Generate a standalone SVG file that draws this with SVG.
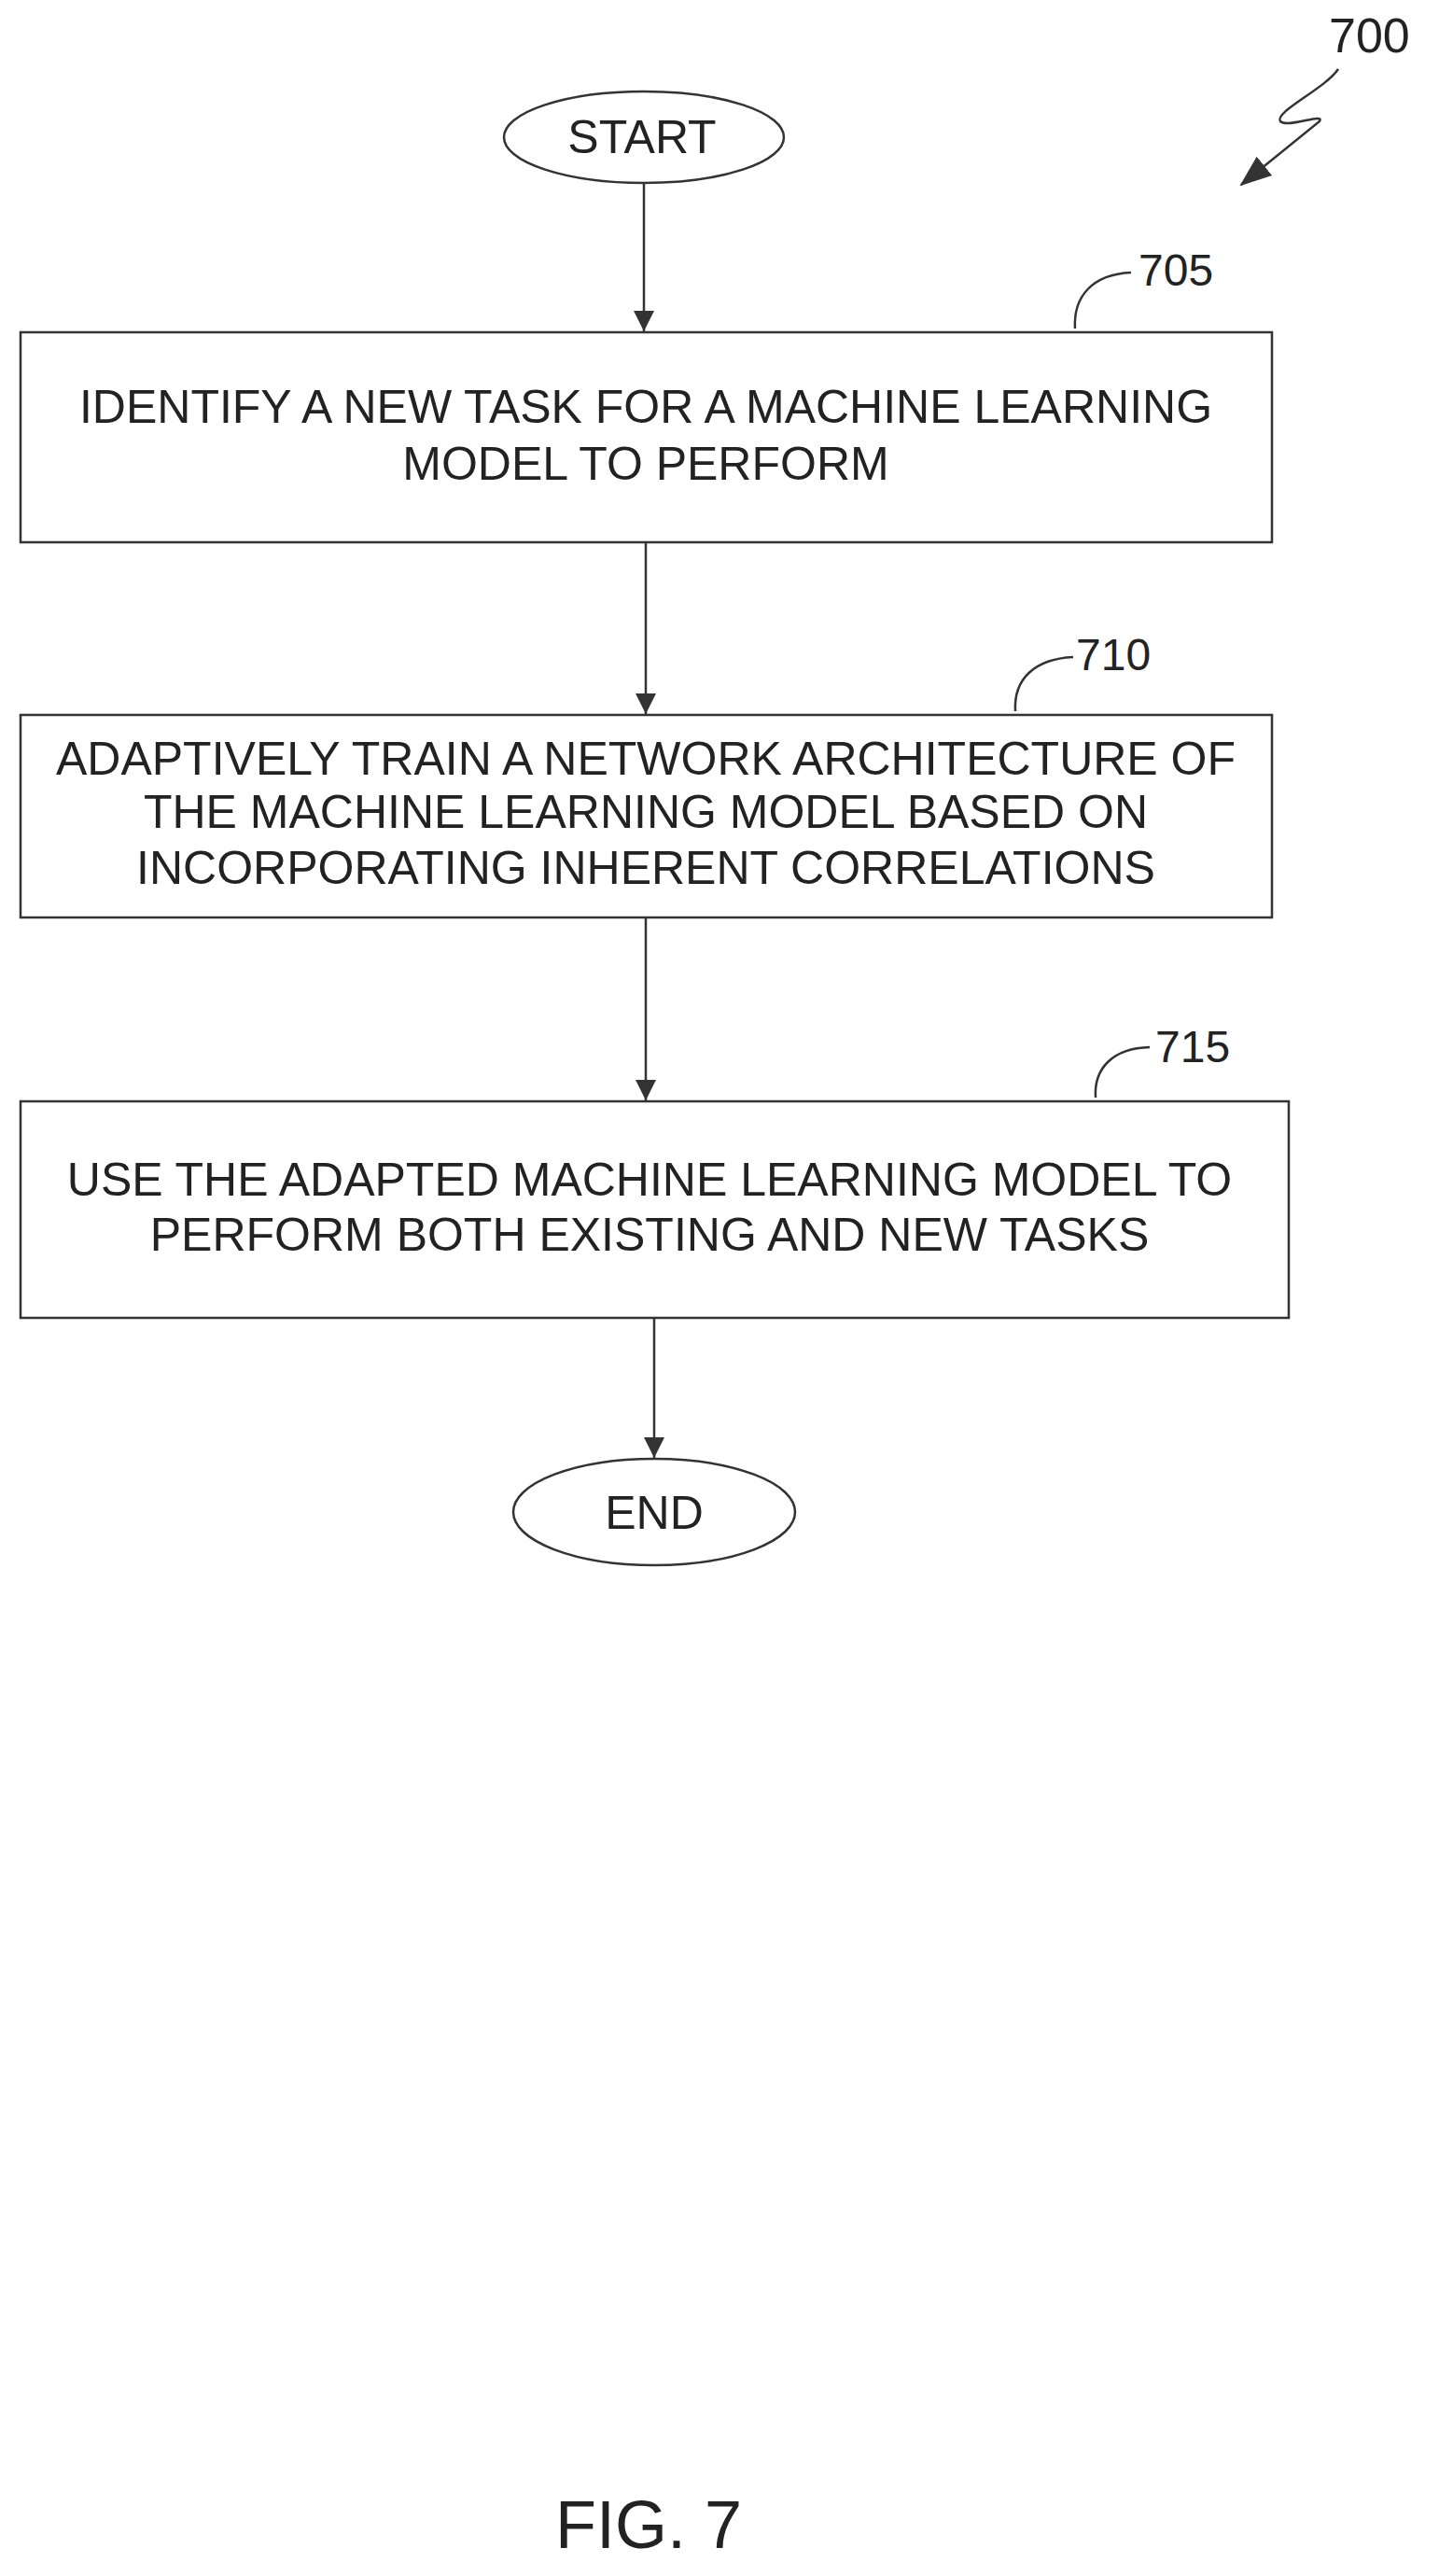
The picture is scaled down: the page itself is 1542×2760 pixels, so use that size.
<svg xmlns="http://www.w3.org/2000/svg" width="1542" height="2760" viewBox="0 0 1542 2760">
<style>
.s{fill:none;stroke:#333;stroke-width:2.5}
.t{font-family:"Liberation Sans",Arial,sans-serif;font-size:50px;fill:#222;text-anchor:middle}
.r{font-family:"Liberation Sans",Arial,sans-serif;font-size:48px;fill:#222}
</style>
<defs><marker id="a" markerWidth="22" markerHeight="24" refX="22" refY="11" orient="auto" markerUnits="userSpaceOnUse" viewBox="0 0 22 22"><path d="M0,0 L22,11 L0,22 Z" fill="#333"/></marker>
<marker id="b" markerWidth="34" markerHeight="34" refX="32" refY="15" orient="auto" markerUnits="userSpaceOnUse" viewBox="0 0 34 30"><path d="M0,2 L34,15 L0,28 Z" fill="#333"/></marker></defs>
<rect width="1542" height="2760" fill="#fff"/>
<g id="start"><ellipse class="s" cx="690" cy="147" rx="150" ry="49"/><text class="t" x="688" y="164">START</text></g>
<g id="n705"><rect class="s" x="22" y="356" width="1341" height="225"/><text class="t" x="692" y="453">IDENTIFY A NEW TASK FOR A MACHINE LEARNING</text><text class="t" x="692" y="514">MODEL TO PERFORM</text>
<path class="s" d="M1152,352 C1150,318 1170,294 1212,292"/><text class="r" x="1220" y="306">705</text></g>
<g id="n710"><rect class="s" x="22" y="766" width="1341" height="217"/><text class="t" x="692" y="830">ADAPTIVELY TRAIN A NETWORK ARCHITECTURE OF</text><text class="t" x="692" y="887">THE MACHINE LEARNING MODEL BASED ON</text><text class="t" x="692" y="947">INCORPORATING INHERENT CORRELATIONS</text>
<path class="s" d="M1088,762 C1086,728 1108,706 1150,704"/><text class="r" x="1153" y="718">710</text></g>
<g id="n715"><rect class="s" x="22" y="1180" width="1359" height="232"/><text class="t" x="696" y="1281">USE THE ADAPTED MACHINE LEARNING MODEL TO</text><text class="t" x="696" y="1340">PERFORM BOTH EXISTING AND NEW TASKS</text>
<path class="s" d="M1174,1176 C1172,1145 1192,1123 1232,1122"/><text class="r" x="1238" y="1138">715</text></g>
<g id="end"><ellipse class="s" cx="701" cy="1620" rx="151" ry="57"/><text class="t" x="701" y="1638">END</text></g>
<g id="ref700"><text class="r" x="1424" y="56" style="font-size:52px">700</text><path class="s" d="M1434,74 C1420,95 1365,120 1372,130 C1380,138 1420,120 1414,130 L1330,198" marker-end="url(#b)"/></g>
<g id="connectors">
<line class="s" x1="690" y1="196" x2="690" y2="355" marker-end="url(#a)"/>
<line class="s" x1="692" y1="581" x2="692" y2="765" marker-end="url(#a)"/>
<line class="s" x1="692" y1="983" x2="692" y2="1179" marker-end="url(#a)"/>
<line class="s" x1="701" y1="1412" x2="701" y2="1562" marker-end="url(#a)"/>
</g>
<text x="695" y="2730" style="font-family:'Liberation Sans',Arial,sans-serif;font-size:72px;fill:#222;text-anchor:middle">FIG. 7</text>
</svg>
